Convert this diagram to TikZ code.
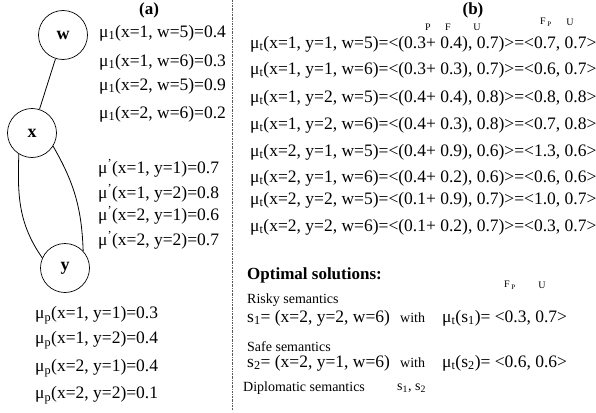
\documentclass[tikz,border=0pt]{standalone}
\usepackage{fontspec}
\setmainfont{Liberation Serif}
\usepackage{tikz}
\usetikzlibrary{positioning}

\begin{document}
\begin{tikzpicture}[
  x=1pt, y=-1pt,
  var/.style={draw, circle, minimum size=49pt, inner sep=0pt, line width=0.7pt,
              font=\fontsize{18}{20}\selectfont\bfseries},
  link/.style={line width=0.8pt},
  val/.style={anchor=west, inner sep=0pt, font=\fontsize{17.5}{20}\selectfont},
  note/.style={anchor=west, inner sep=0pt, font=\fontsize{14}{16}\selectfont},
  tag/.style={inner sep=0pt, font=\fontsize{10}{11}\selectfont},
  head/.style={inner sep=0pt, font=\fontsize{17}{20}\selectfont\bfseries},
  divider/.style={gray!70!black, line width=0.6pt,
                  dash pattern=on 2pt off 1pt on 0.6pt off 1pt},
]
\useasboundingbox (0,0) rectangle (596,412);

% Left: the network and its tables
\node[head] (ha) at (149,10) {(a)};
\node[var] (w) at (63,35)  {w};
\node[var] (x) at (32,133) {x};
\node[var] (y) at (65,268) {y};
\draw[link] (w) -- (x);
\draw[link] (x.238) to[out=268, in=125] (y.156);
\draw[link] (x.328) to[out=300, in=92] (y.43);

\node[val] (m11) at (99,33)  {μ\textsubscript{1}(x=1, w=5)=0.4};
\node[val] (m12) at (99,62)  {μ\textsubscript{1}(x=1, w=6)=0.3};
\node[val] (m13) at (99,86)  {μ\textsubscript{1}(x=2, w=5)=0.9};
\node[val] (m14) at (99,114) {μ\textsubscript{1}(x=2, w=6)=0.2};

\node[val] (q1) at (98,168) {μ\textsuperscript{’}(x=1, y=1)=0.7};
\node[val] (q2) at (98,193) {μ\textsuperscript{’}(x=1, y=2)=0.8};
\node[val] (q3) at (98,215) {μ\textsuperscript{’}(x=2, y=1)=0.6};
\node[val] (q4) at (98,240) {μ\textsuperscript{’}(x=2, y=2)=0.7};

\node[val] (p1) at (35,315) {μ\textsubscript{p}(x=1, y=1)=0.3};
\node[val] (p2) at (35,340) {μ\textsubscript{p}(x=1, y=2)=0.4};
\node[val] (p3) at (35,368) {μ\textsubscript{p}(x=2, y=1)=0.4};
\node[val] (p4) at (35,395) {μ\textsubscript{p}(x=2, y=2)=0.1};

% divider
\coordinate (dtop) at (232,0);
\coordinate (dbot) at (232,410);
\draw[divider] (dtop) -- (dbot);

% Right: combined values
\node[head] (hb) at (473,10) {(b)};
\node[tag] (tp) at (428,27) {P};
\node[tag] (tf) at (448,27) {F};
\node[tag] (tu) at (477,27) {U};
\node[tag] (tfp) at (546,22) {F\,\textsubscript{P}};
\node[tag] (tuu) at (570,22) {U};

\node[val] (t1) at (250,44)  {μ\textsubscript{t}(x=1, y=1, w=5)=<(0.3+ 0.4), 0.7)>=<0.7, 0.7>};
\node[val] (t2) at (250,70)  {μ\textsubscript{t}(x=1, y=1, w=6)=<(0.3+ 0.3), 0.7)>=<0.6, 0.7>};
\node[val] (t3) at (250,98)  {μ\textsubscript{t}(x=1, y=2, w=5)=<(0.4+ 0.4), 0.8)>=<0.8, 0.8>};
\node[val] (t4) at (250,125) {μ\textsubscript{t}(x=1, y=2, w=6)=<(0.4+ 0.3), 0.8)>=<0.7, 0.8>};
\node[val] (t5) at (250,152) {μ\textsubscript{t}(x=2, y=1, w=5)=<(0.4+ 0.9), 0.6)>=<1.3, 0.6>};
\node[val] (t6) at (250,178) {μ\textsubscript{t}(x=2, y=1, w=6)=<(0.4+ 0.2), 0.6)>=<0.6, 0.6>};
\node[val] (t7) at (250,200) {μ\textsubscript{t}(x=2, y=2, w=5)=<(0.1+ 0.9), 0.7)>=<1.0, 0.7>};
\node[val] (t8) at (250,227) {μ\textsubscript{t}(x=2, y=2, w=6)=<(0.1+ 0.2), 0.7)>=<0.3, 0.7>};

% Optimal solutions
\node[head, anchor=west] (opt) at (247,275) {Optimal solutions:};
\node[tag] (ofp) at (510,285) {F\,\textsubscript{P}};
\node[tag] (ou) at (542,285) {U};

\node[note] (risky) at (247,300) {Risky semantics};
\node[val] (s1) at (247,318) {s\textsubscript{1}= (x=2, y=2, w=6)};
\node[note] (w1) at (400,318) {with};
\node[val] (r1) at (442,318) {μ\textsubscript{t}(s\textsubscript{1})= <0.3, 0.7>};

\node[note] (safe) at (247,347) {Safe semantics};
\node[val] (s2) at (247,363) {s\textsubscript{2}= (x=2, y=1, w=6)};
\node[note] (w2) at (400,363) {with};
\node[val] (r2) at (442,363) {μ\textsubscript{t}(s\textsubscript{2})= <0.6, 0.6>};

\node[note] (dipl) at (243,388) {Diplomatic semantics};
\node[note] (dset) at (397,388) {s\textsubscript{1}, s\textsubscript{2}};

\end{tikzpicture}
\end{document}
